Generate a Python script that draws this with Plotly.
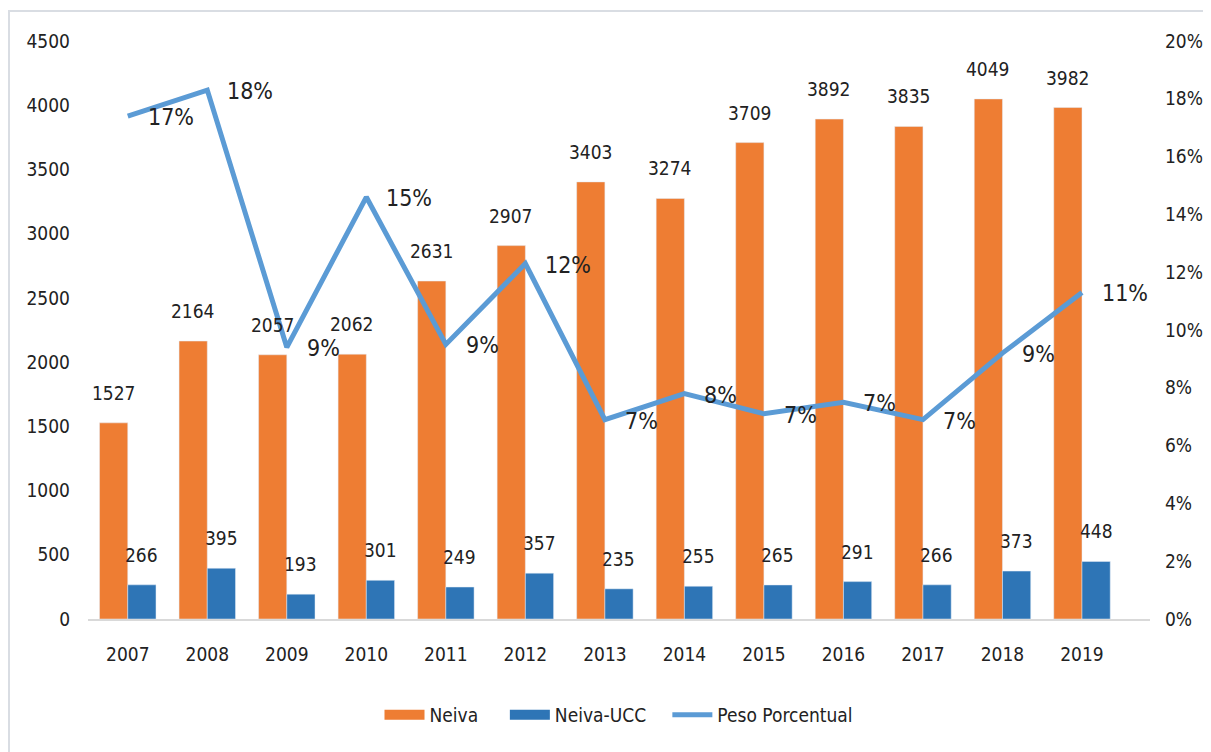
import plotly.graph_objects as go

years = ["2007", "2008", "2009", "2010", "2011", "2012", "2013",
         "2014", "2015", "2016", "2017", "2018", "2019"]
neiva = [1527, 2164, 2057, 2062, 2631, 2907, 3403, 3274, 3709, 3892, 3835, 4049, 3982]
neiva_ucc = [266, 395, 193, 301, 249, 357, 235, 255, 265, 291, 266, 373, 448]
peso = [0.174, 0.183, 0.094, 0.146, 0.095, 0.123, 0.069, 0.078, 0.071, 0.075, 0.069, 0.092, 0.113]
peso_labels = ["17%", "18%", "9%", "15%", "9%", "12%", "7%", "8%", "7%", "7%", "7%", "9%", "11%"]

FONT = "DejaVu Sans Condensed, Liberation Sans Narrow, sans-serif"
ORANGE = "#EE7D33"
BLUE = "#2E75B6"
LINE = "#5B9BD5"
TXT = "#222222"
NB = "\u00a0"

W, H = 1211, 752
# the page body adds an 8px offset; plot area target (page px): x 88-1150, y 41-619
L, R, T, B = 80, 69, 33, 141

fig = go.Figure()
fig.add_trace(go.Bar(x=years, y=neiva, name="Neiva", marker=dict(color=ORANGE),
                     offsetgroup="a", showlegend=False))
fig.add_trace(go.Bar(x=years, y=neiva_ucc, name="Neiva-UCC", marker=dict(color=BLUE),
                     offsetgroup="b", showlegend=False))
fig.add_trace(go.Scatter(x=years, y=peso, name="Peso Porcentual", yaxis="y2",
                         mode="lines", line=dict(color=LINE, width=5), showlegend=False))
# legend entries (wide swatches like the reference)
fig.add_trace(go.Scatter(x=[None], y=[None], name="Neiva" + NB * 4, mode="lines",
                         line=dict(color=ORANGE, width=15)))
fig.add_trace(go.Scatter(x=[None], y=[None], name="Neiva-UCC" + NB * 3, mode="lines",
                         line=dict(color=BLUE, width=15)))
fig.add_trace(go.Scatter(x=[None], y=[None], name="Peso Porcentual", mode="lines",
                         line=dict(color=LINE, width=5)))

ann = []
for i, v in enumerate(neiva):
    ann.append(dict(x=i, y=v, xref="x", yref="y", text=str(v), showarrow=False,
                    xanchor="center", yanchor="bottom", xshift=-14, yshift=17,
                    font=dict(family=FONT, size=19, color=TXT)))
for i, v in enumerate(neiva_ucc):
    ann.append(dict(x=i, y=v, xref="x", yref="y", text=str(v), showarrow=False,
                    xanchor="center", yanchor="bottom", xshift=14, yshift=17,
                    font=dict(family=FONT, size=19, color=TXT)))
for i, (v, t) in enumerate(zip(peso, peso_labels)):
    ann.append(dict(x=i, y=v, xref="x", yref="y2", text=t, showarrow=False,
                    xanchor="left", yanchor="middle", xshift=18, yshift=-1,
                    font=dict(family=FONT, size=23, color=TXT)))

pw, ph = W - L - R, H - T - B
def px(xp):
    return (xp - L) / pw
def py(yp):
    return (H - B - yp) / ph

fig.update_layout(
    width=W, height=H,
    margin=dict(l=L, r=R, t=T, b=B),
    paper_bgcolor="white", plot_bgcolor="white",
    barmode="group", bargap=0.29, bargroupgap=0,
    font=dict(family=FONT, size=18, color=TXT),
    xaxis=dict(type="category", showgrid=False, showline=True, linecolor="#D9D9D9",
               linewidth=2, ticks="", ticklabelstandoff=17, tickfont=dict(size=19)),
    yaxis=dict(range=[0, 4500], dtick=500, showgrid=False, zeroline=False,
               showline=False, ticklabelstandoff=17, tickfont=dict(size=19)),
    yaxis2=dict(range=[0, 0.20], dtick=0.02, tickformat=".0%", overlaying="y",
                side="right", showgrid=False, zeroline=False, showline=False,
                ticklabelstandoff=14, tickfont=dict(size=19)),
    legend=dict(orientation="h", x=0.5, xanchor="center", y=py(707), yanchor="middle",
                font=dict(size=19), traceorder="normal", itemwidth=40),
    annotations=ann,
    shapes=[dict(type="rect", xref="paper", yref="paper",
                 x0=px(1), x1=px(1215), y0=py(760), y1=py(3),
                 line=dict(color="#D9DDE3", width=2), fillcolor="rgba(0,0,0,0)",
                 layer="below")],
)

fig.write_html("out.html")
